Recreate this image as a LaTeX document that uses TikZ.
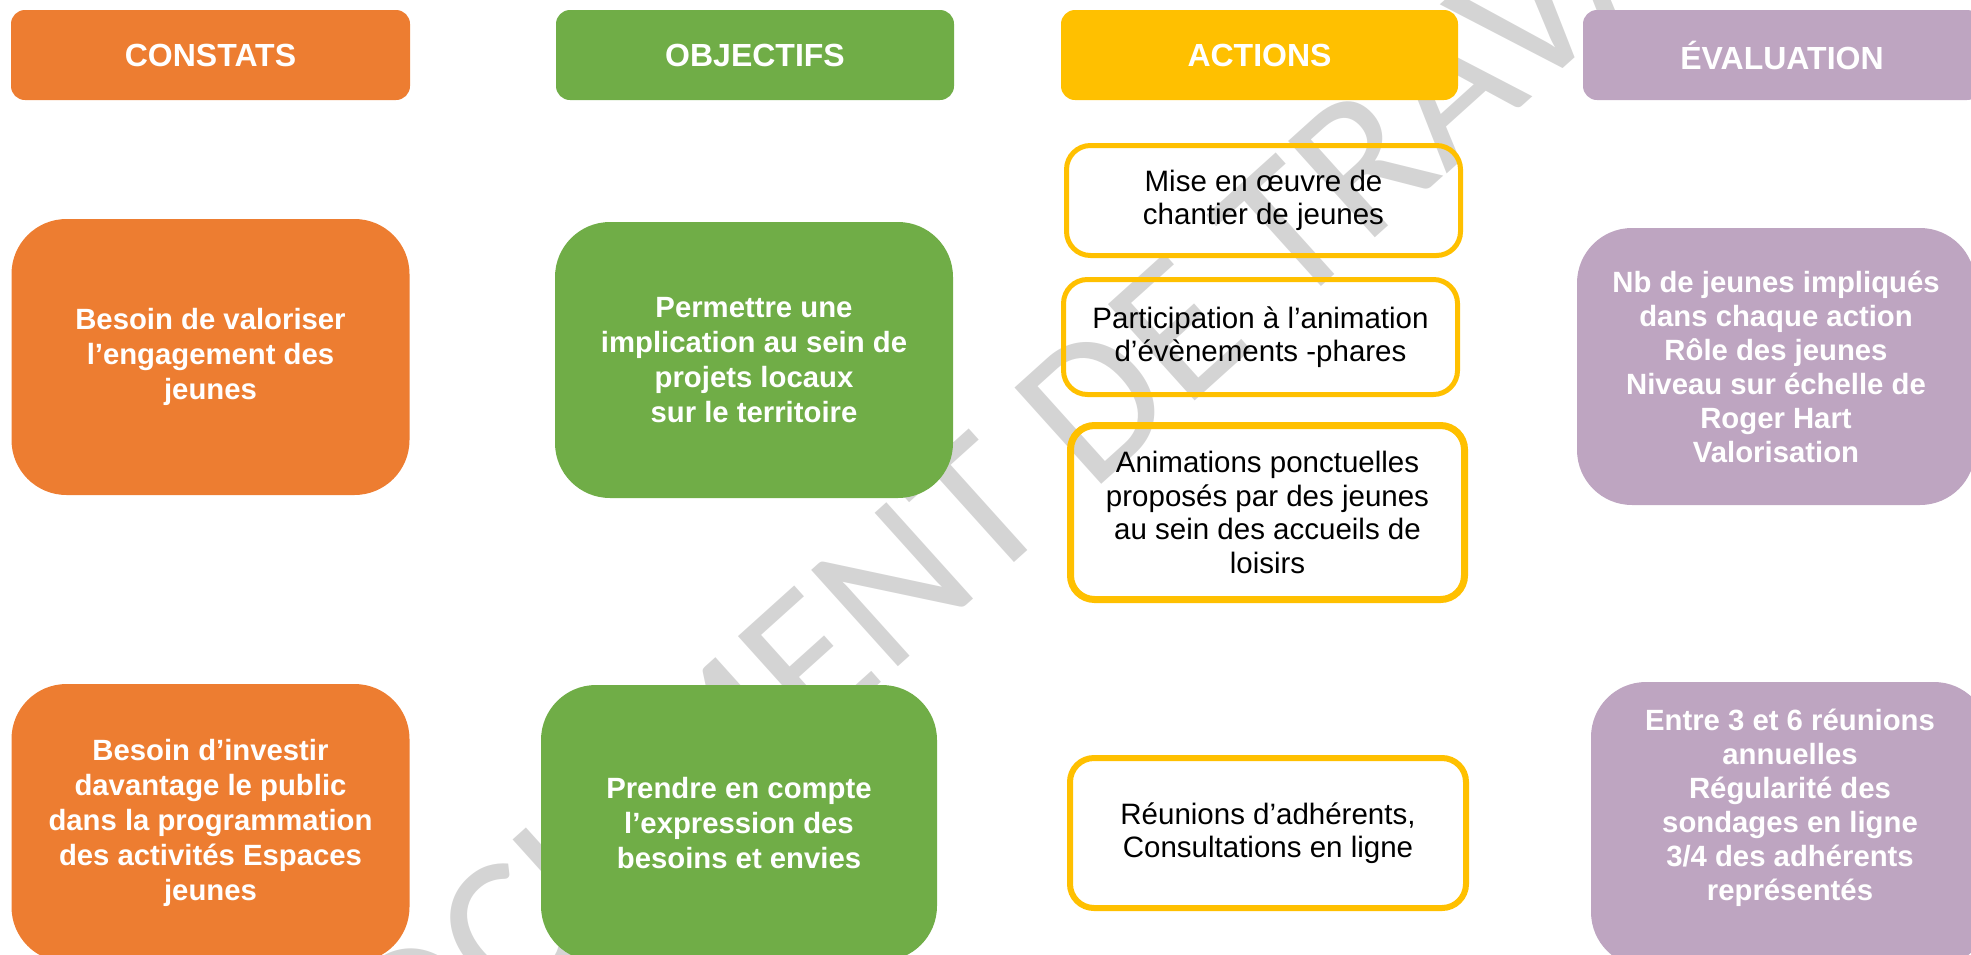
\documentclass[tikz,border=0pt]{standalone}
\usepackage{fontspec}
\setmainfont{Liberation Sans}
\newfontfamily\wmfont{Carlito}
\definecolor{corange}{RGB}{237,125,49}
\definecolor{cgreen}{RGB}{112,173,71}
\definecolor{cyellow}{RGB}{255,192,0}
\definecolor{cpurple}{RGB}{190,165,193}
\definecolor{wmgray}{RGB}{212,212,212}
\tikzset{
  header/.style={rectangle, rounded corners=14pt, inner sep=0pt, text=white,
    font=\bfseries\fontsize{32}{38}\selectfont, minimum height=90pt},
  bigbox/.style={rectangle, rounded corners=55pt, inner sep=0pt, text=white, align=center,
    font=\bfseries\fontsize{29.3}{35}\selectfont},
  evbox/.style={bigbox, font=\bfseries\fontsize{29.3}{34}\selectfont},
  actbox/.style={rectangle, rounded corners=24pt, draw=cyellow, line width=5pt, inner sep=0pt,
    align=center, text=black, font=\fontsize{29.5}{33.5}\selectfont}
}
\begin{document}
\begin{tikzpicture}[x=1pt,y=-1pt]
\useasboundingbox (0,0) rectangle (1971,954);
\clip (0,0) rectangle (1971,954);
% watermark
\node[rotate=42, text=wmgray, inner sep=0pt, font=\wmfont\fontsize{202}{202}\selectfont] (wm) at (1012,478) {DOCUMENT DE TRAVAIL};
% headers
\node[header, fill=corange, minimum width=399pt] (h1) at (210.5,55) {CONSTATS};
\node[header, fill=cgreen, minimum width=398pt] (h2) at (755,55) {OBJECTIFS};
\node[header, fill=cyellow, minimum width=397pt] (h3) at (1259.5,55) {ACTIONS};
\node[header, fill=cpurple, minimum width=398pt] (h4) at (1782,55) {ÉVALUATION};
% constats
\node[bigbox, fill=corange, minimum width=398pt, minimum height=276pt] (c1) at (210.5,357)
  {Besoin de valoriser\\l’engagement des\\jeunes};
\node[bigbox, fill=corange, minimum width=398pt, minimum height=278pt] (c2) at (210.5,823)
  {Besoin d’investir\\davantage le public\\dans la programmation\\des activités Espaces\\jeunes};
% objectifs
\node[bigbox, fill=cgreen, minimum width=398pt, minimum height=276pt] (o1) at (754,360)
  {Permettre une\\implication au sein de\\projets locaux\\sur le territoire};
\node[bigbox, fill=cgreen, minimum width=396pt, minimum height=276pt] (o2) at (739,823)
  {Prendre en compte\\l’expression des\\besoins et envies};
% actions
\node[actbox, minimum width=394pt, minimum height=110pt] (a1) at (1263.5,200.5)
  {Mise en œuvre de\\chantier de jeunes};
\node[actbox, minimum width=394pt, minimum height=115pt] (a2) at (1260.5,337)
  {Participation à l’animation\\d’évènements -phares};
\node[actbox, line width=7pt, minimum width=394pt, minimum height=174pt] (a3) at (1267.5,512.5)
  {Animations ponctuelles\\proposés par des jeunes\\au sein des accueils de\\loisirs};
\node[actbox, line width=6pt, minimum width=396pt, minimum height=150pt] (a4) at (1268,833)
  {Réunions d’adhérents,\\Consultations en ligne};
% evaluation
\node[evbox, fill=cpurple, minimum width=398pt, minimum height=277pt] (e1) at (1776,366.5)
  {Nb de jeunes impliqués\\dans chaque action\\Rôle des jeunes\\Niveau sur échelle de\\Roger Hart\\Valorisation};
\node[evbox, fill=cpurple, minimum width=398pt, minimum height=285pt] (e2) at (1790,824.5) {};
\node[evbox, text=white] (e2t) at (1790,808)
  {Entre 3 et 6 réunions\\annuelles\\Régularité des\\sondages en ligne\\3/4 des adhérents\\représentés};
\end{tikzpicture}
\end{document}
